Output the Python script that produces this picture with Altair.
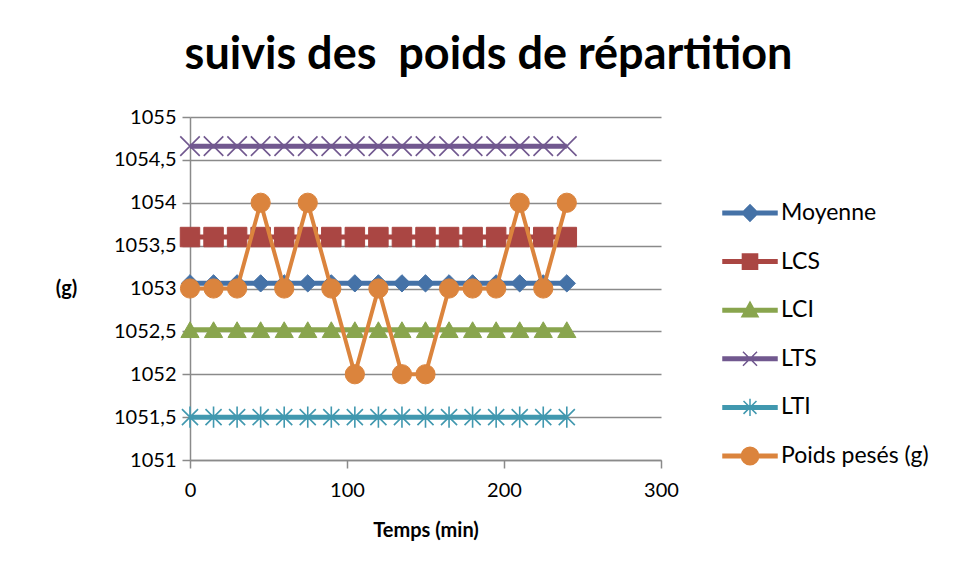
import altair as alt
import pandas as pd

# ---- data ----
temps = [0, 15, 30, 45, 60, 75, 90, 105, 120, 135, 150, 165, 180, 195, 210, 225, 240]
moyenne = [1053.06, 1053.06, 1053.06, 1053.06, 1053.06, 1053.06, 1053.06, 1053.06, 1053.06,
           1053.06, 1053.06, 1053.06, 1053.06, 1053.06, 1053.06, 1053.06, 1053.06]
lcs = [1053.6, 1053.6, 1053.6, 1053.6, 1053.6, 1053.6, 1053.6, 1053.6, 1053.6,
       1053.6, 1053.6, 1053.6, 1053.6, 1053.6, 1053.6, 1053.6, 1053.6]
lci = [1052.52, 1052.52, 1052.52, 1052.52, 1052.52, 1052.52, 1052.52, 1052.52, 1052.52,
       1052.52, 1052.52, 1052.52, 1052.52, 1052.52, 1052.52, 1052.52, 1052.52]
lts = [1054.66, 1054.66, 1054.66, 1054.66, 1054.66, 1054.66, 1054.66, 1054.66, 1054.66,
       1054.66, 1054.66, 1054.66, 1054.66, 1054.66, 1054.66, 1054.66, 1054.66]
lti = [1051.5, 1051.5, 1051.5, 1051.5, 1051.5, 1051.5, 1051.5, 1051.5, 1051.5,
       1051.5, 1051.5, 1051.5, 1051.5, 1051.5, 1051.5, 1051.5, 1051.5]
poids = [1053, 1053, 1053, 1054, 1053, 1054, 1053, 1052, 1053,
         1052, 1052, 1053, 1053, 1053, 1054, 1053, 1054]

series_names = ["Moyenne", "LCS", "LCI", "LTS", "LTI", "Poids pesés (g)"]
series_values = [moyenne, lcs, lci, lts, lti, poids]
colors = ["#4572A7", "#AA4643", "#89A54E", "#71588F", "#4198AF", "#DB843D"]

x_ticks = [0, 100, 200, 300]
y_ticks = [1051, 1051.5, 1052, 1052.5, 1053, 1053.5, 1054, 1054.5, 1055]

# ---- styles ----
FONT = "Lato"
GRID = "#8a8a8a"
plot_shapes = ["diamond", "square", "triangle-up",
               "M-1,-1L1,1M-1,1L1,-1",
               "M-0.9,-0.9L0.9,0.9M-0.9,0.9L0.9,-0.9M0,-1.2L0,1.2",
               "circle"]
plot_sizes = [300, 380, 330, 380, 320, 370]
point_stroke = [1, 1, 1, 1.6, 1.6, 1]
line_widths = [5, 5, 5, 5, 5, 4]

bar = "M-1,-0.065L1,-0.065L1,0.065L-1,0.065Z"
legend_paths = [
    bar + "M0,-0.3L0.3,0L0,0.3L-0.3,0Z",
    bar + "M-0.28,-0.28L0.28,-0.28L0.28,0.28L-0.28,0.28Z",
    bar + "M0,-0.3L0.3,0.24L-0.3,0.24Z",
    bar + "M-0.26,-0.26L0.26,0.26M-0.26,0.26L0.26,-0.26",
    bar + "M-0.24,-0.24L0.24,0.24M-0.24,0.24L0.24,-0.24M0,-0.32L0,0.32",
    bar + "M0.32,0A0.32,0.32,0,1,1,-0.32,0A0.32,0.32,0,1,1,0.32,0Z",
]

rows = []
for name, vals in zip(series_names, series_values):
    for t, v in zip(temps, vals):
        rows.append({"temps": t, "valeur": v, "serie": name})
df = pd.DataFrame(rows)

AX = dict(labelFont=FONT, labelFontSize=20, labelColor="black", labelFlush=False,
          titleFont=FONT, titleFontSize=20, titleFontWeight="bold", titleColor="black",
          domainColor=GRID, domainWidth=1.5, tickColor=GRID, tickWidth=1.5, tickSize=8,
          gridColor=GRID, gridWidth=1.5)

X = alt.X("temps:Q", scale=alt.Scale(domain=[0, 300], nice=False),
          axis=alt.Axis(values=x_ticks, title="Temps (min)", grid=False,
                        labelPadding=12, titlePadding=20, **AX))
Y = alt.Y("valeur:Q", scale=alt.Scale(domain=[1051, 1055], nice=False, zero=False),
          axis=alt.Axis(values=y_ticks, title="(g)", grid=True,
                        labelExpr="replace(toString(datum.value), '.', ',')",
                        labelPadding=6, titleAngle=0, titleX=-124, titleY=171.5,
                        titleAlign="center", titleBaseline="middle", **AX))

base = alt.Chart(df)
layers = []
for i, name in enumerate(series_names):
    sub = base.transform_filter(alt.datum.serie == name)
    layers.append(sub.mark_line(color=colors[i], strokeWidth=line_widths[i]).encode(x=X, y=Y))
    layers.append(sub.mark_point(shape=plot_shapes[i], size=plot_sizes[i], filled=True,
                                 fill=colors[i], stroke=colors[i],
                                 strokeWidth=point_stroke[i], opacity=1).encode(x=X, y=Y))

leg = alt.Legend(title=None, orient="none", legendX=532, legendY=76, padding=0,
                 symbolSize=2916, symbolStrokeWidth=1.5, labelFont=FONT,
                 labelFontSize=23, labelColor="black", labelOffset=3, labelLimit=300,
                 clipHeight=40, rowPadding=8.6)
legend_layer = base.transform_filter("false").mark_point(filled=True, strokeWidth=1.5, opacity=1).encode(
    x=X, y=Y,
    fill=alt.Fill("serie:N", scale=alt.Scale(domain=series_names, range=colors), legend=leg),
    stroke=alt.Stroke("serie:N", scale=alt.Scale(domain=series_names, range=colors), legend=leg),
    shape=alt.Shape("serie:N", scale=alt.Scale(domain=series_names, range=legend_paths), legend=leg),
)
layers.append(legend_layer)

chart = alt.layer(*layers).properties(
    width=471, height=343,
    background="white",
    autosize=alt.AutoSizeParams(type="none"),
    padding={"left": 182, "top": 109, "right": 270, "bottom": 100},
    title=alt.TitleParams("suivis des\u00a0 poids de répartition", font=FONT, fontSize=45,
                          fontWeight="bold", color="black", anchor="middle",
                          dx=63, dy=10, offset=3, baseline="alphabetic"),
).configure_view(stroke=None)

chart.save("out.html", embed_options={"renderer": "svg", "actions": False})
